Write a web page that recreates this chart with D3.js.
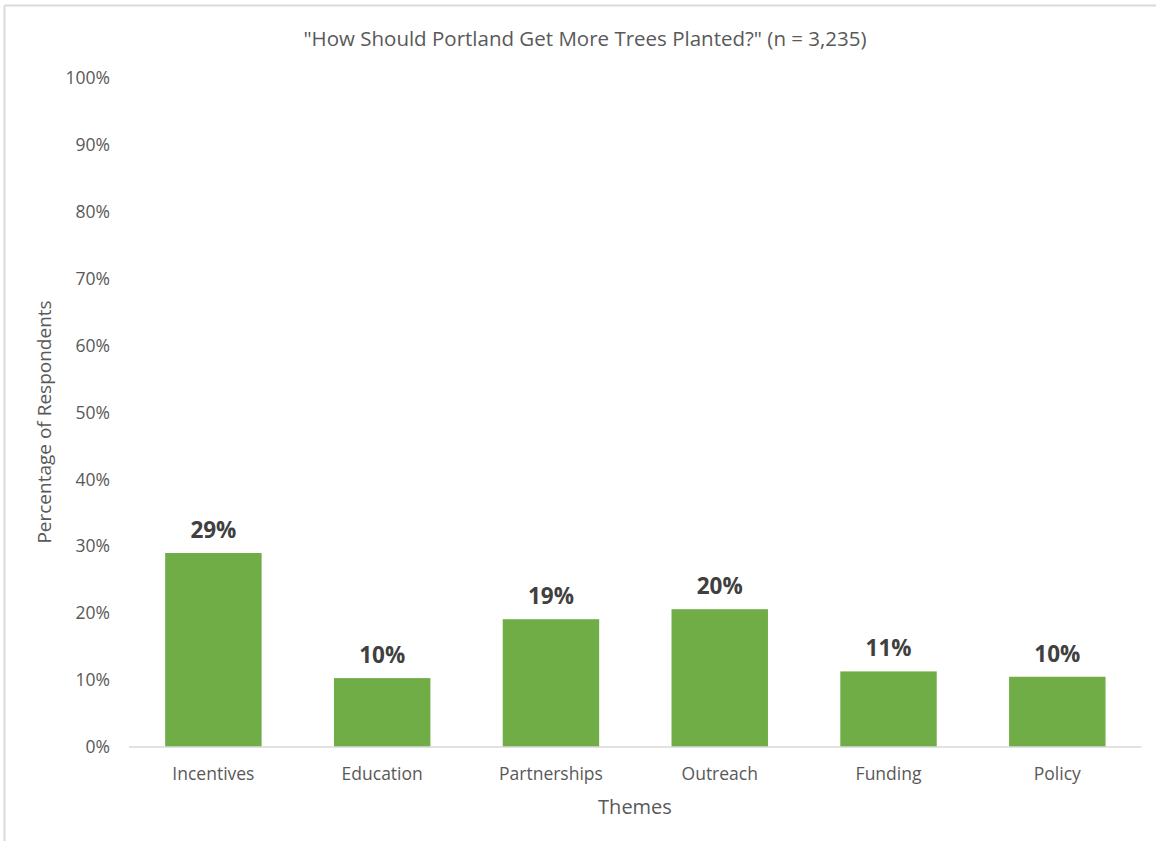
<!DOCTYPE html>
<html>
<head>
<meta charset="utf-8">
<script src="https://cdn.jsdelivr.net/npm/d3@7"></script>
<style>
html,body{margin:0;padding:0;background:#fff;}
svg{display:block;}
text{font-family:"Open Sans","Noto Sans",sans-serif;}
</style>
</head>
<body>
<svg id="chart" width="1156" height="841"></svg>
<script>
const categories = ["Incentives", "Education", "Partnerships", "Outreach", "Funding", "Policy"];
const values = [29.0, 10.3, 19.1, 20.6, 11.3, 10.5];
const valueLabels = ["29%", "10%", "19%", "20%", "11%", "10%"];
const yTicks = [0, 10, 20, 30, 40, 50, 60, 70, 80, 90, 100];
const title = "\"How Should Portland Get More Trees Planted?\" (n = 3,235)";
const xTitle = "Themes";
const yTitle = "Percentage of Respondents";

const svg = d3.select("#chart");
const W = 1156, H = 841;
const FONT = "'Open Sans','Noto Sans',sans-serif";

// frame (top and left edge)
svg.append("line").attr("x1", 4.5).attr("x2", W).attr("y1", 5.5).attr("y2", 5.5)
  .attr("stroke", "#d9d9d9").attr("stroke-width", 2);
svg.append("line").attr("x1", 4.5).attr("x2", 4.5).attr("y1", 5.5).attr("y2", H)
  .attr("stroke", "#d9d9d9").attr("stroke-width", 2);

const plot = {left: 129, right: 1141.7, top: 78, bottom: 747};

const x = d3.scaleBand().domain(categories).range([plot.left, plot.right])
  .paddingInner(0.4286).paddingOuter(0.2143);
const y = d3.scaleLinear().domain([0, 100]).range([plot.bottom, plot.top]);

// title
svg.append("text").attr("x", 585).attr("y", 46).attr("text-anchor", "middle")
  .attr("font-size", 20.5).attr("fill", "#595959").text(title);

// y axis (labels only)
const yAxis = d3.axisLeft(y).tickValues(yTicks).tickSize(0).tickPadding(0)
  .tickFormat(d => d + "%");
const gy = svg.append("g").attr("transform", `translate(110,0)`).call(yAxis);
gy.select(".domain").remove();
gy.selectAll("text").attr("font-size", 17.5).attr("fill", "#595959").attr("font-family", FONT);

// bars
svg.append("g").selectAll("rect").data(categories).join("rect")
  .attr("x", d => x(d))
  .attr("width", x.bandwidth())
  .attr("y", (d, i) => y(values[i]))
  .attr("height", (d, i) => y(0) - y(values[i]))
  .attr("fill", "#70ad47");

// x axis
const xAxis = d3.axisBottom(x).tickSize(0).tickPadding(21);
const gx = svg.append("g").attr("transform", `translate(0,${plot.bottom})`).call(xAxis);
gx.select(".domain").attr("stroke", "#d9d9d9").attr("stroke-width", 1.5)
  .attr("d", `M${plot.left},0H${plot.right}`);
gx.selectAll("text").attr("font-size", 17.5).attr("fill", "#595959").attr("font-family", FONT);

// data labels
svg.append("g").selectAll("text").data(categories).join("text")
  .attr("x", d => x(d) + x.bandwidth() / 2)
  .attr("y", (d, i) => y(values[i]) - 15)
  .attr("text-anchor", "middle")
  .attr("font-size", 22.5).attr("font-weight", "bold").attr("fill", "#404040")
  .text((d, i) => valueLabels[i]);

// axis titles
svg.append("text").attr("x", 635).attr("y", 814).attr("text-anchor", "middle")
  .attr("font-size", 20).attr("fill", "#595959").text(xTitle);
svg.append("text").attr("transform", "translate(51,422) rotate(-90)")
  .attr("text-anchor", "middle").attr("font-size", 19).attr("fill", "#595959").text(yTitle);
</script>
</body>
</html>
